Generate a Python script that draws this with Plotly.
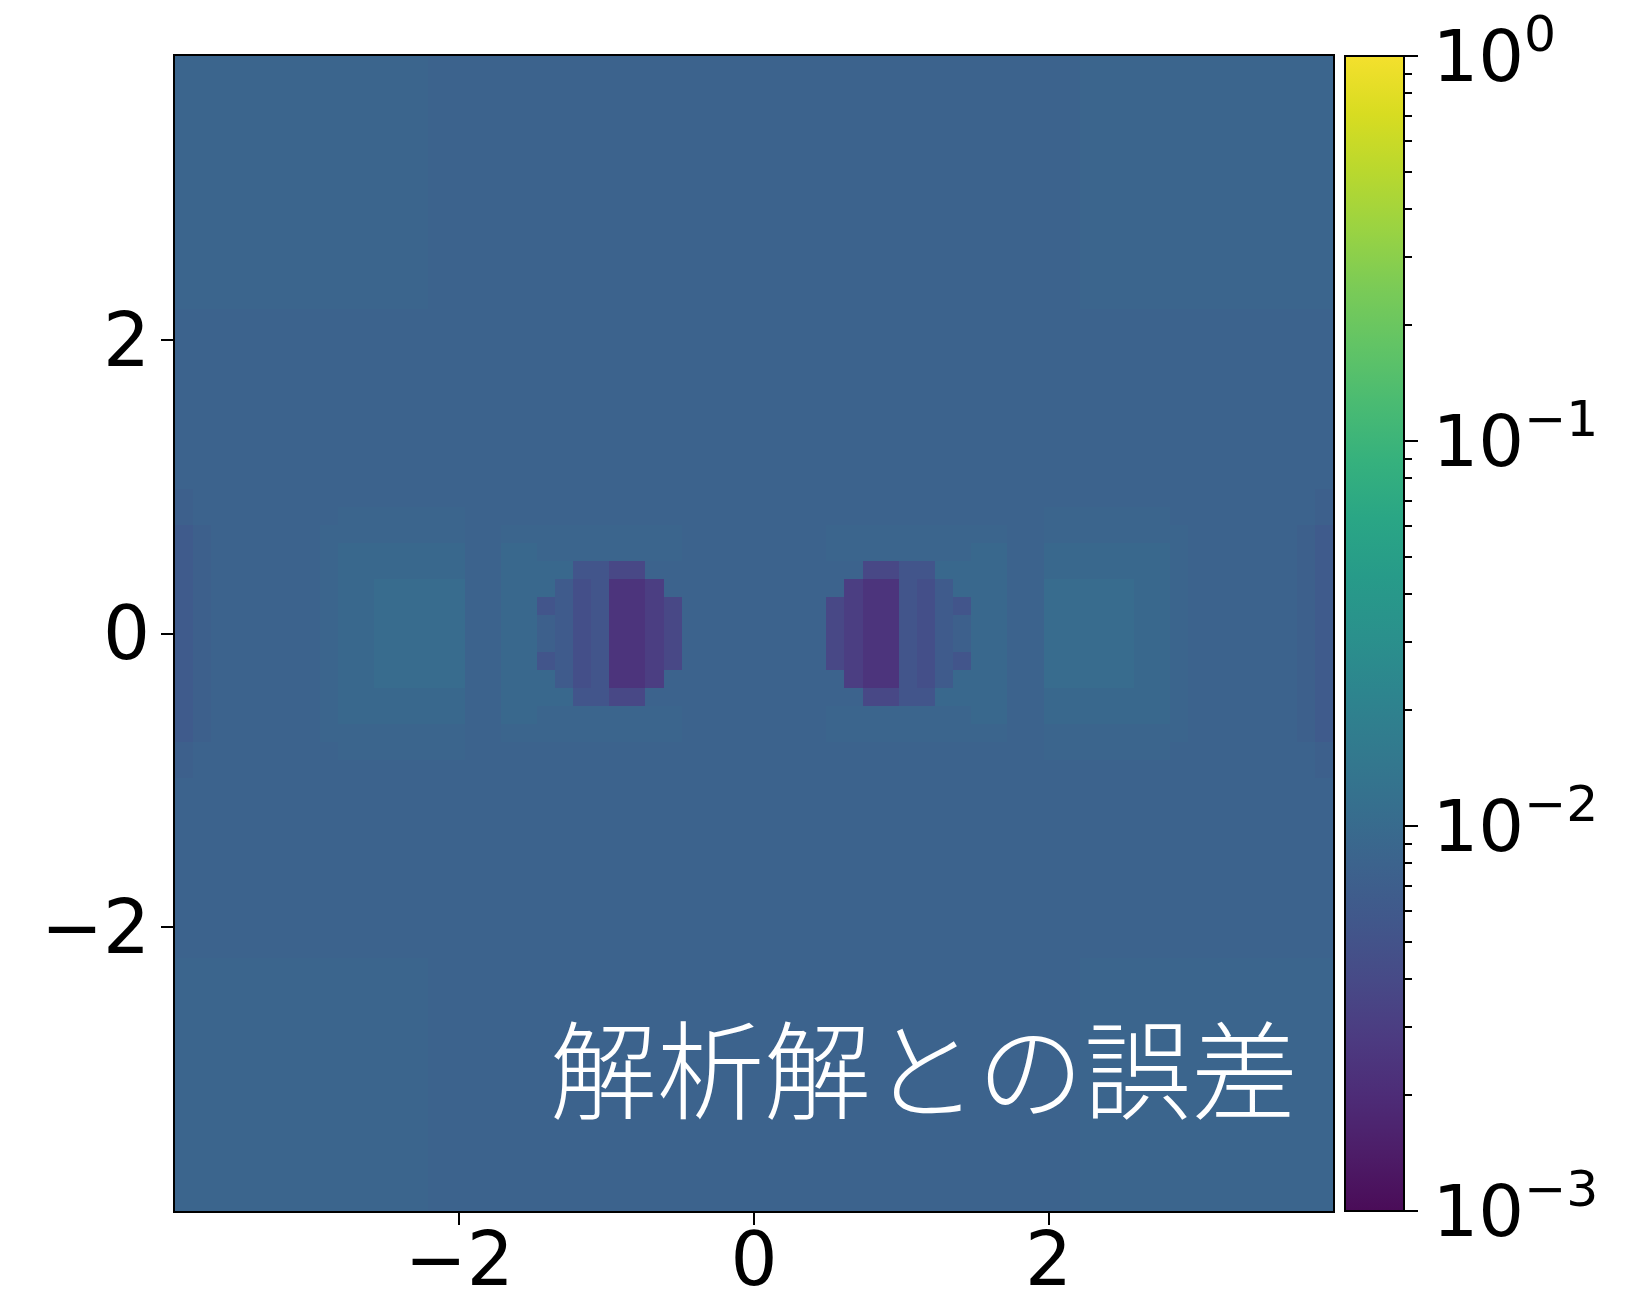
import re
import numpy as np
import plotly.graph_objects as go

# ---------------- data ----------------
# error levels (absolute error vs analytic solution), one letter per level
LEVELS = {
    "a": 0.0024, "b": 0.0030, "c": 0.0038, "d": 0.0046, "e": 0.0054,
    "f": 0.0064, "g": 0.0072, "h": 0.0080, "i": 0.0084, "j": 0.0092,
    "k": 0.0102,
}

# 64 x 64 grid, rows listed from top (y = +3.93) to bottom (y = -3.93),
# run-length encoded: "<count><level>"
ROWS = [
    "14i36h14i", "14i36h14i", "14i36h14i", "14i36h14i", "14i36h14i",
    "14i36h14i", "14i36h14i", "14i36h14i", "14i36h14i", "14i36h14i",
    "14i36h14i", "14i36h14i", "14i36h14i", "14i36h14i",
    "64h", "64h", "64h", "64h", "64h", "64h", "64h", "64h", "64h", "64h",
    "1g62h1g",
    "1g8h7i32h7i8h1g",
    "1f1g6h8i2h10i8h10i2h8i6h1g1f",
    "1f1g6h1i7j2h2j8i8h8i2j2h7j1i6h1g1f",
    "1f1g6h1i7j2h4j2e2c12h2c2e4j2h7j1i6h1g1f",
    "1f1g6h1i2j5k2h3j1f1d1e2a1b10h1b2a1e1d1f3j2h5k2j1i6h1g1f",
    "1f1g6h1i2j5k2h2j1e1f1d1e2a1b1c8h1c1b2a1e1d1f1e2j2h5k2j1i6h1g1f",
    "1f1g6h1i2j5k2h2j1g1f1d1e2a1b1c8h1c1b2a1e1d1f1g2j2h5k2j1i6h1g1f",
    "1f1g6h1i2j5k2h2j1g1f1d1e2a1b1c8h1c1b2a1e1d1f1g2j2h5k2j1i6h1g1f",
    "1f1g6h1i2j5k2h2j1e1f1d1e2a1b1c8h1c1b2a1e1d1f1e2j2h5k2j1i6h1g1f",
    "1f1g6h1i2j5k2h3j1f1d1e2a1b10h1b2a1e1d1f3j2h5k2j1i6h1g1f",
    "1f1g6h1i7j2h4j2e2c12h2c2e4j2h7j1i6h1g1f",
    "1f1g6h1i7j2h2j8i8h8i2j2h7j1i6h1g1f",
    "1f1g6h8i2h10i8h10i2h8i6h1g1f",
    "1g8h7i32h7i8h1g",
    "1g62h1g",
    "64h", "64h", "64h", "64h", "64h", "64h", "64h", "64h", "64h", "64h",
    "14i36h14i", "14i36h14i", "14i36h14i", "14i36h14i", "14i36h14i",
    "14i36h14i", "14i36h14i", "14i36h14i", "14i36h14i", "14i36h14i",
    "14i36h14i", "14i36h14i", "14i36h14i", "14i36h14i",
]

AXIS_TICKS = [-2, 0, 2]
CBAR_TICKS = [1e-3, 1e-2, 1e-1, 1e0]
CBAR_TICKTEXT = ["10<sup>−3</sup>", "10<sup>−2</sup>", "10<sup>−1</sup>", "10<sup>0</sup>"]
CBAR_MINOR = [m * 10.0 ** e for e in (-3, -2, -1) for m in range(2, 10)]
ANNOTATION = "解析解との誤差"
EXTENT = 3.93

VIRIDIS = ["#440154", "#471365", "#482475", "#463480", "#414487", "#3b528b",
           "#355f8d", "#2f6c8e", "#2a788e", "#25848e", "#21918c", "#1e9c89",
           "#22a884", "#2fb47c", "#44bf70", "#5ec962", "#7ad151", "#9bd93c",
           "#bddf26", "#dfe318", "#fde725"]

# ---------------- build grid ----------------
def decode(row):
    out = []
    for n, ch in re.findall(r"(\d+)([a-z])", row):
        out.extend([LEVELS[ch]] * int(n))
    assert len(out) == 64, (row, len(out))
    return out

values = np.array([decode(r) for r in ROWS])[::-1]  # bottom row first
zlog = np.log10(values)

edges = np.linspace(-EXTENT, EXTENT, values.shape[1] + 1)


def soften(hexc, w=0.92, grey=140):
    r, g, b = (int(hexc[i:i + 2], 16) for i in (1, 3, 5))
    return "rgb({:.0f},{:.0f},{:.0f})".format(*(w * c + (1 - w) * grey for c in (r, g, b)))


colorscale = [[i / (len(VIRIDIS) - 1), soften(c)] for i, c in enumerate(VIRIDIS)]

FONT = "DejaVu Sans"
# the page body adds an 8 px margin, so the figure is 8 px smaller than the window
W, H = 1620, 1300
ML, MR, MT, MB = 167, 224, 48, 97
PW = W - ML - MR
x_dom_right = (1325 - ML) / PW
cbar_left = (1337 - ML) / PW

fig = go.Figure()
fig.add_trace(go.Heatmap(
    x=edges, y=edges, z=zlog, zmin=-3, zmax=0, colorscale=colorscale,
    zsmooth=False, hoverinfo="skip",
    colorbar=dict(
        x=cbar_left, xanchor="left", xref="paper", xpad=0,
        y=0.5, yanchor="middle", ypad=0, len=1, lenmode="fraction",
        thickness=59, thicknessmode="pixels",
        outlinewidth=2, outlinecolor="black",
        ticks="", showticklabels=False,
    ),
))
# carrier trace for the colour-bar scale axis
fig.add_trace(go.Scatter(x=[None], y=[None], yaxis="y2", showlegend=False,
                         hoverinfo="skip", mode="markers"))

axis_common = dict(
    range=[-EXTENT, EXTENT], tickvals=AXIS_TICKS, ticks="outside",
    ticklen=12, tickwidth=2, tickcolor="black",
    showline=True, mirror=True, linewidth=2, linecolor="black",
    showgrid=False, zeroline=False, automargin=False,
    tickfont=dict(family=FONT, size=74, color="black"),
)

fig.update_layout(
    template="none",
    width=W, height=H,
    margin=dict(l=ML, r=MR, t=MT, b=MB, autoexpand=False),
    paper_bgcolor="white", plot_bgcolor="white",
    showlegend=False,
    xaxis=dict(domain=[0, x_dom_right], ticklabelstandoff=-29, **axis_common),
    yaxis=dict(domain=[0, 1], ticklabelstandoff=-4, **axis_common),
    yaxis2=dict(
        type="log", range=[-3, 0], overlaying="y", anchor="free", position=1.0,
        side="right", showgrid=False, zeroline=False, showline=False,
        automargin=False, ticklabeloverflow="allow",
        ticks="outside", ticklen=13, tickwidth=2, tickcolor="black",
        tickvals=CBAR_TICKS, ticktext=CBAR_TICKTEXT, ticklabelstandoff=0,
        tickfont=dict(family=FONT, size=72, color="black"),
        minor=dict(tickvals=CBAR_MINOR, ticks="outside", ticklen=7,
                   tickwidth=1.5, tickcolor="black"),
    ),
    annotations=[dict(
        text=ANNOTATION, xref="x domain", yref="y domain",
        x=0.9715, y=0.127, xanchor="right", yanchor="middle", showarrow=False,
        font=dict(family="Noto Sans CJK JP", size=107, color="white", weight=300),
    )],
)

fig.write_html("out.html")
